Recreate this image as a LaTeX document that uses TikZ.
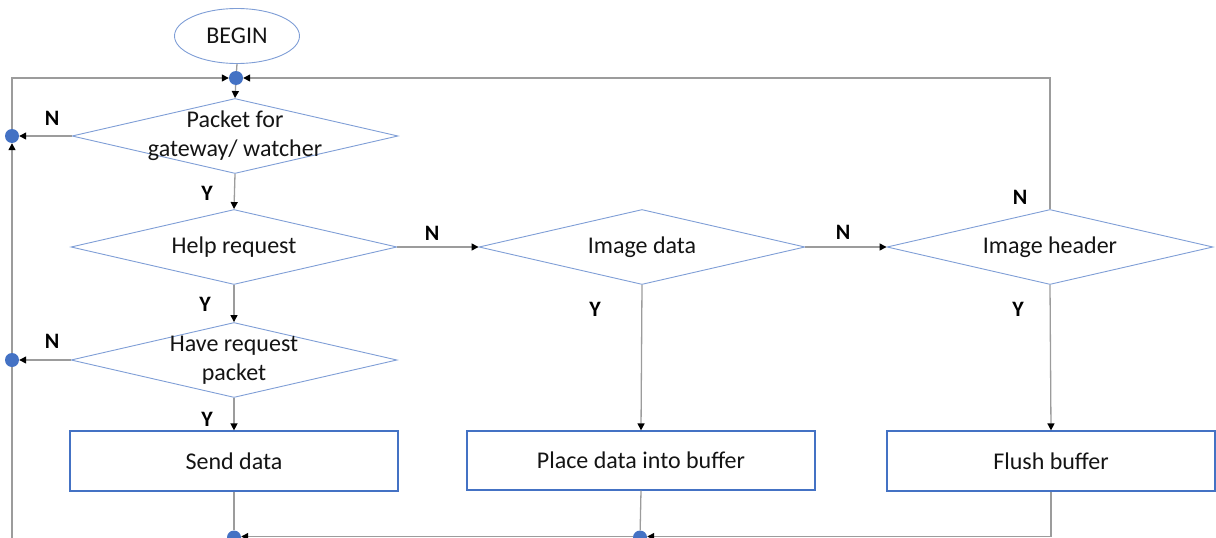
\documentclass[tikz,border=0pt]{standalone}
\usepackage{fontspec}
\setmainfont{Carlito}
\usetikzlibrary{shapes.geometric,arrows.meta,calc}
\definecolor{boxblue}{HTML}{4472C4}
\definecolor{diablue}{HTML}{7F9ED6}
\definecolor{wire}{HTML}{9C9C9C}
\definecolor{ink}{HTML}{141414}
\begin{document}
\begin{tikzpicture}[x=1pt,y=-1pt,
  every node/.style={text=ink},
  txt/.style={font=\fontsize{24}{29}\selectfont, align=center, inner sep=0},
  dia/.style={diamond, draw=diablue, line width=0.9pt, inner sep=0,
    minimum width=326pt, minimum height=75pt},
  proc/.style={rectangle, draw=boxblue, line width=1.2pt, inner sep=0,
    minimum width=328pt, minimum height=60pt, font=\fontsize{24}{29}\selectfont},
  startnode/.style={ellipse, draw=diablue, line width=0.9pt, inner sep=0,
    minimum width=125pt, minimum height=55pt, font=\fontsize{24}{29}\selectfont},
  dot/.style={circle, fill=boxblue, draw=none, inner sep=0, minimum size=14pt},
  yn/.style={font=\fontsize{22}{24}\selectfont\bfseries, inner sep=0, text=black},
  wireline/.style={draw=wire, line width=1.3pt},
  flow/.style={wireline, -{Triangle[length=7pt,width=7pt,color=black]}},
]
\useasboundingbox (0,0) rectangle (1216,538);
\clip (0,0) rectangle (1216,538);

% start and entry junction
\node[startnode] (begin) at (237,36) {BEGIN};
\node[dot] (j0) at (236,78) {};

% left column of decisions
\node[dia] (d1) at (235,136) {};
\node[txt] at (d1.center) {Packet for\\gateway/ watcher};
\node[dia] (d2) at (234,247) {};
\node[txt] at (d2.center) {Help request};
\node[dia] (d3) at (234,360) {};
\node[txt] at (d3.center) {Have request\\packet};
\node[proc] (r1) at (234,461) {Send data};

% middle and right columns
\node[dia] (d4) at (642,247) {};
\node[txt] at (d4.center) {Image data};
\node[dia] (d5) at (1050,247) {};
\node[txt] at (d5.center) {Image header};
\node[proc, minimum width=348pt, minimum height=59pt] (r2) at (641,460.5) {Place data into buffer};
\node[proc] (r3) at (1051,461) {Flush buffer};

% return junctions
\node[dot] (jl1) at (12,136) {};
\node[dot] (jl2) at (12,360) {};
\node[dot] (jb1) at (234,537.5) {};
\node[dot] (jb2) at (640,537.5) {};
\coordinate (tl) at (12,78);
\coordinate (tr) at (1050,78);
\coordinate (bl) at (12,548);
\coordinate (br) at (1051,536.5);

% main flow
\draw[wireline] (begin.south) -- (j0);
\draw[flow] (j0) -- (d1.north);
\draw[flow] (d1.south) -- (d2.north);
\draw[flow] (d2.south) -- (d3.north);
\draw[flow] (d3.south) -- (r1.north);
\draw[flow] (d2.east) -- (d4.west);
\draw[flow] (d4.east) -- (d5.west);
\draw[flow] (d4.south) -- (r2.north);
\draw[flow] (d5.south) -- (r3.north);

% "no" branches back to the start
\draw[flow] (d1.west) -- (jl1);
\draw[flow] (d3.west) -- (jl2);
\draw[flow] (d5.north) -- (tr) -- (j0);
\draw[flow] (jl1) -- (tl) -- (j0);
\draw[flow] (jl2) -- (jl1);

% bottom collector
\draw[wireline] (r1.south) -- (jb1);
\draw[wireline] (r2.south) -- (jb2);
\draw[flow] (r3.south) -- (br) -- ($(jb2.east)+(0,-1)$);
\draw[flow] ($(jb2.west)+(0,-1)$) -- ($(jb1.east)+(0,-1)$);
\draw[wireline] (jb1) -- (jb1 |- bl) -- (bl) -- (jl2);

% branch labels
\node[yn] at (52,118) {N};
\node[yn] at (207,193) {Y};
\node[yn] at (205,304) {Y};
\node[yn] at (52,341) {N};
\node[yn] at (207,419) {Y};
\node[yn] at (432,233) {N};
\node[yn] at (843,232) {N};
\node[yn] at (595,309) {Y};
\node[yn] at (1020,197) {N};
\node[yn] at (1018,309) {Y};
\end{tikzpicture}
\end{document}
